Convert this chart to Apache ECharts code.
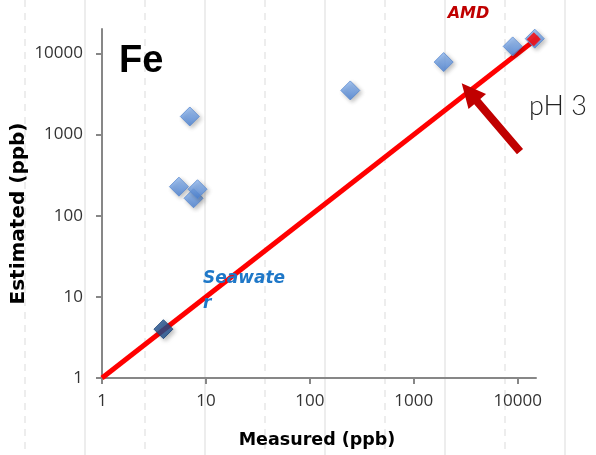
<!DOCTYPE html>
<html><head><meta charset="utf-8">
<script src="https://cdn.jsdelivr.net/npm/echarts@6/dist/echarts.min.js"></script>
<style>html,body{margin:0;padding:0;background:#fff}#c{width:596px;height:455px}</style>
</head><body><div id="c"></div>
<script>
// ---- data ----
const measured = [5.5, 7, 7.6, 8.3, 245, 1940, 8950, 14600];
const estimated = [228, 1670, 164, 212, 3500, 7830, 12200, 15200];
const seawaterMeasured = [3.9];
const seawaterEstimated = [4.0];
const amdMeasured = [14300];
const amdEstimated = [15000];
const oneToOneLine = [1, 16000];
const tickValues = [1, 10, 100, 1000, 10000];
const xRange = [1, 15000];
const yRange = [1, 20000];

const zip = (a, b) => a.map((v, i) => [v, b[i]]);

const chart = echarts.init(document.getElementById('c'), null, {renderer: 'canvas'});

// background slide guide lines (decoration)
const bgLines = [];
for (let k = 0; k < 10; k++) {
  const x = 25 + 60 * k;
  bgLines.push({
    type: 'line', z: -10, silent: true,
    shape: {x1: x, y1: 0, x2: x, y2: 455},
    style: {stroke: '#ededed', lineWidth: 2, lineDash: k % 2 === 0 ? [7, 6] : null}
  });
}

// arrow polygon
function arrowPoints(tail, tip, headLen, headHalf, shaftHalf) {
  const dx = tip[0] - tail[0], dy = tip[1] - tail[1];
  const L = Math.hypot(dx, dy);
  const u = [dx / L, dy / L];
  const n = [-u[1], u[0]];
  const B = [tip[0] - u[0] * headLen, tip[1] - u[1] * headLen];
  const p = (P, s) => [P[0] + n[0] * s, P[1] + n[1] * s];
  return [tip, p(B, headHalf), p(B, shaftHalf), p(tail, shaftHalf), p(tail, -shaftHalf), p(B, -shaftHalf), p(B, -headHalf)];
}

const axisCommon = {
  type: 'log',
  logBase: 10,
  axisLine: {show: true, lineStyle: {color: '#878787', width: 2}},
  axisTick: {show: true, inside: false, length: 6, lineStyle: {color: '#878787', width: 2}, customValues: tickValues},
  splitLine: {show: false},
  minorTick: {show: false},
  axisLabel: {color: '#333333', fontFamily: 'Open Sans', fontSize: 17, customValues: tickValues,
    formatter: v => String(Math.round(v))}
};

const diamondStyle = {
  color: new echarts.graphic.LinearGradient(0, 0, 0, 1, [
    {offset: 0, color: '#94bcf3'}, {offset: 1, color: '#4881d6'}]),
  borderColor: '#5a89cf', borderWidth: 1,
  shadowColor: 'rgba(0,0,0,0.3)', shadowBlur: 4, shadowOffsetX: 2, shadowOffsetY: 2
};

chart.setOption({
  animation: false,
  backgroundColor: '#ffffff',
  grid: {left: 102, right: 60, top: 29, bottom: 77, containLabel: false},
  xAxis: Object.assign({}, axisCommon, {min: xRange[0], max: xRange[1],
    axisLabel: Object.assign({}, axisCommon.axisLabel, {margin: 15})}),
  yAxis: Object.assign({}, axisCommon, {min: yRange[0], max: yRange[1],
    axisLabel: Object.assign({}, axisCommon.axisLabel, {margin: 19})}),
  series: [
    {
      type: 'line', data: zip(oneToOneLine, oneToOneLine), symbol: 'none', clip: false, z: 3,
      lineStyle: {color: '#ff0000', width: 5, cap: 'butt'}
    },
    {
      type: 'scatter', data: zip(measured, estimated), symbol: 'diamond', symbolSize: 19, z: 4,
      itemStyle: diamondStyle
    },
    {
      type: 'scatter', data: zip(seawaterMeasured, seawaterEstimated), symbol: 'diamond', symbolSize: 19, z: 4,
      itemStyle: {color: '#20508f', borderColor: '#1a4477', borderWidth: 1,
        shadowColor: 'rgba(0,0,0,0.3)', shadowBlur: 4, shadowOffsetX: 2, shadowOffsetY: 2}
    },
    {
      type: 'scatter', data: zip(amdMeasured, amdEstimated), symbol: 'diamond', symbolSize: 14, z: 5,
      itemStyle: {color: '#ff0000'}
    }
  ],
  graphic: bgLines.concat([
    {type: 'text', x: 119, y: 61.5, z: 10,
      style: {text: 'Fe', fontFamily: 'Liberation Sans', fontWeight: 'bold', fontSize: 38, fill: '#000',
        align: 'left', verticalAlign: 'middle'}},
    {type: 'text', x: 468.5, y: 14, z: 10,
      style: {text: 'AMD', fontFamily: 'DejaVu Sans', fontWeight: 'bold', fontStyle: 'italic', fontSize: 16,
        fill: '#c00000', align: 'center', verticalAlign: 'middle',
        shadowColor: 'rgba(0,0,0,0.3)', shadowBlur: 2, shadowOffsetX: 1, shadowOffsetY: 1}},
    {type: 'text', x: 203, y: 291, z: 10,
      style: {text: 'Seawate\nr', fontFamily: 'DejaVu Sans', fontWeight: 'bold', fontStyle: 'italic', fontSize: 17,
        lineHeight: 25, fill: '#1f78c8', align: 'left', verticalAlign: 'middle'}},
    {type: 'text', x: 529, y: 106.5, z: 10,
      style: {text: 'pH 3', fontFamily: 'Lato', fontWeight: 300, fontSize: 27, fill: '#222222',
        align: 'left', verticalAlign: 'middle'}},
    {type: 'polygon', z: 10,
      shape: {points: arrowPoints([520, 151.7], [461.7, 83.3], 24, 11.5, 4)},
      style: {fill: '#c00000'}},
    {type: 'text', x: 317, y: 440, z: 10,
      style: {text: 'Measured (ppb)', fontFamily: 'DejaVu Sans', fontWeight: 'bold', fontSize: 17.5, fill: '#000',
        align: 'center', verticalAlign: 'middle'}},
    {type: 'text', x: 18.5, y: 213.5, rotation: Math.PI / 2, z: 10,
      style: {text: 'Estimated (ppb)', fontFamily: 'DejaVu Sans', fontWeight: 'bold', fontSize: 20, fill: '#000',
        align: 'center', verticalAlign: 'middle'}}
  ])
});
</script>
</body></html>
